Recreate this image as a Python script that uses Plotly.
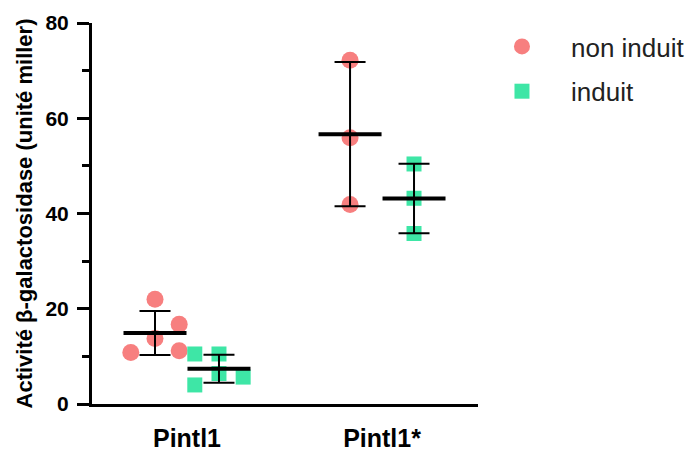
import numpy as np
import plotly.graph_objects as go

# ---- data ----
categories = ["Pintl1", "Pintl1*"]
non_induit_pintl1 = [22.0, 16.75, 13.75, 10.8, 11.2]
induit_pintl1 = [10.5, 10.5, 6.4, 5.65, 4.0]
non_induit_pintl1s = [72.2, 55.9, 41.9]
induit_pintl1s = [50.4, 43.2, 35.8]
y_ticks = [0, 20, 40, 60, 80]

series = {
    "non induit": [non_induit_pintl1, non_induit_pintl1s],
    "induit": [induit_pintl1, induit_pintl1s],
}

# ---- styling / layout helpers (not data) ----
FONT = "Arial, Liberation Sans, Helvetica, sans-serif"
colors = {"non induit": "#F77F7F", "induit": "#3EE6A6"}
symbols = {"non induit": "circle", "induit": "square"}
sizes = {"non induit": 17, "induit": 15}
offsets = {"non induit": -0.164, "induit": 0.164}
jitter_step = 0.124
jitter = {
    "non induit": [[0, 1, 0, -1, 1], [0, 0, 0]],
    "induit": [[-1, 0, 0, 1, -1], [0, 0, 0]],
}

fig = go.Figure()

# points
for name, groups in series.items():
    xs, ys = [], []
    for gi, vals in enumerate(groups):
        for j, v in zip(jitter[name][gi], vals):
            xs.append(gi + offsets[name] + j * jitter_step)
            ys.append(v)
    fig.add_trace(go.Scatter(
        x=xs, y=ys, mode="markers", name=name,
        legendgroup=name,
        marker=dict(symbol=symbols[name], size=sizes[name], color=colors[name],
                    line=dict(width=0)),
        cliponaxis=False,
    ))

# mean +/- SD
for name, groups in series.items():
    xs = [gi + offsets[name] for gi in range(len(groups))]
    means = [float(np.mean(g)) for g in groups]
    sds = [float(np.std(g, ddof=1)) for g in groups]
    fig.add_trace(go.Scatter(
        x=xs, y=means, mode="markers", showlegend=False,
        marker=dict(symbol="line-ew-open", size=45, color="black",
                    line=dict(width=4, color="black")),
        error_y=dict(type="data", array=sds, visible=True, color="black",
                     thickness=2, width=15.5),
        cliponaxis=False, hoverinfo="skip",
    ))

fig.update_layout(
    width=688, height=453,
    margin=dict(l=92, r=210, t=22.5, b=48.5, autoexpand=False),
    paper_bgcolor="white", plot_bgcolor="white",
    font=dict(family=FONT, color="black"),
    showlegend=True,
    legend=dict(
        x=0.987, y=1.0, xanchor="left", yanchor="top",
        font=dict(family=FONT, size=26, color="#222222"),
        tracegroupgap=8, itemwidth=88,
        bgcolor="rgba(0,0,0,0)",
    ),
)

fig.update_xaxes(
    range=[-0.487, 1.492],
    tickmode="array", tickvals=list(range(len(categories))), ticktext=categories,
    showline=True, linewidth=3, linecolor="black",
    ticks="outside", ticklen=10, tickcolor="rgba(0,0,0,0)",
    tickfont=dict(family=FONT, size=25, color="black", weight="bold"),
    showgrid=False, zeroline=False, automargin=False,
)

fig.update_yaxes(
    range=[0, 80],
    tickmode="array", tickvals=y_ticks, ticktext=[str(t) for t in y_ticks],
    showline=True, linewidth=3, linecolor="black",
    ticks="outside", ticklen=12, tickwidth=3, tickcolor="black",
    ticklabelstandoff=4,
    tickfont=dict(family=FONT, size=21, color="black", weight="bold"),
    minor=dict(tickvals=[10, 30, 50, 70], ticks="outside", ticklen=7,
               tickwidth=3, tickcolor="black", showgrid=False),
    title=dict(text="Activité β-galactosidase (unité miller)",
               font=dict(family=FONT, size=22, color="black", weight="bold"),
               standoff=7),
    showgrid=False, zeroline=False, automargin=False,
)

fig.write_html("out.html", config={"displayModeBar": False},
               post_script="document.body.style.margin='0';")
